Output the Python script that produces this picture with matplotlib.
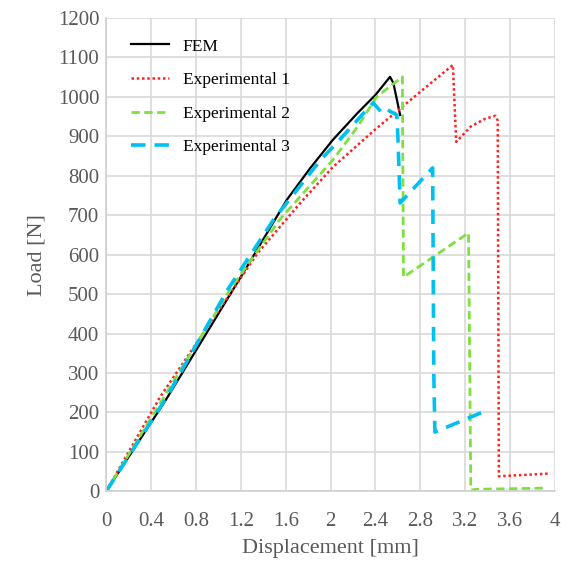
import matplotlib.pyplot as plt

plt.rcParams['font.family'] = ['Liberation Serif', 'DejaVu Serif']

# FEM
fem_x = [0, 0.53, 1.22, 1.61, 1.82, 2.02, 2.24, 2.40, 2.53, 2.56, 2.62]
fem_y = [0, 231, 553, 739, 820, 891, 959, 1005, 1051, 1035, 954]

# Experimental 1
exp1_x = [0, 0.48, 1.35, 1.73, 2.02, 2.40, 2.80, 3.09, 3.12, 3.25, 3.38, 3.47, 3.49, 3.50, 3.96]
exp1_y = [0, 239, 604, 731, 822, 918, 1013, 1081, 886, 925, 945, 952, 940, 38, 45]

# Experimental 2
exp2_x = [0, 0.50, 1.10, 1.55, 2.02, 2.24, 2.41, 2.64, 2.65, 3.23, 3.25, 3.30, 3.93]
exp2_y = [0, 232, 510, 690, 840, 924, 1000, 1051, 543, 655, 3, 5, 8]

# Experimental 3
exp3_x = [0, 0.54, 1.08, 1.49, 1.91, 2.08, 2.32, 2.38, 2.46, 2.51, 2.59, 2.60, 2.62, 2.91, 2.92, 2.93, 3.35]
exp3_y = [0, 239, 510, 688, 840, 891, 967, 985, 959, 967, 954, 900, 731, 820, 300, 150, 200]

fig = plt.figure(figsize=(5.68, 5.64), dpi=100)
ax = fig.add_axes([0.187, 0.129, 0.79, 0.839])

ax.plot(fem_x, fem_y, color='black', lw=1.6, label='FEM')
ax.plot(exp1_x, exp1_y, color='#ff2020', lw=1.8, linestyle=(0, (1, 1.1)), label='Experimental 1')
ax.plot(exp2_x, exp2_y, color='#7ee03e', lw=2, linestyle=(0, (3, 1.6)), label='Experimental 2')
ax.plot(exp3_x, exp3_y, color='#00c0f0', lw=2.6, linestyle=(0, (4, 2.5)), label='Experimental 3')

ax.set_xlim(0, 4)
ax.set_ylim(0, 1200)
ax.set_xticks([0, 0.4, 0.8, 1.2, 1.6, 2, 2.4, 2.8, 3.2, 3.6, 4])
ax.set_xticklabels(['0', '0.4', '0.8', '1.2', '1.6', '2', '2.4', '2.8', '3.2', '3.6', '4'])
ax.set_yticks(range(0, 1201, 100))
ax.grid(True, color='#d9d9d9', lw=1.2)
ax.set_axisbelow(True)
for s in ['top', 'right']:
    ax.spines[s].set_visible(False)
for s in ['left', 'bottom']:
    ax.spines[s].set_color('#d0d0d0')
    ax.spines[s].set_linewidth(1.2)
ax.tick_params(length=0, labelsize=15, labelcolor='#595959')
ax.tick_params(axis='x', pad=15)
ax.tick_params(axis='y', pad=5)
ax.set_xlabel('Displacement [mm]', fontsize=16, color='#595959', labelpad=6)
ax.set_ylabel('Load [N]', fontsize=16, color='#595959', labelpad=8)

ax.legend(loc='upper left', frameon=False, fontsize=12.5, handlelength=2.2,
          bbox_to_anchor=(0.02, 0.99), labelspacing=1.0)

fig.savefig('out.png', dpi=100)
